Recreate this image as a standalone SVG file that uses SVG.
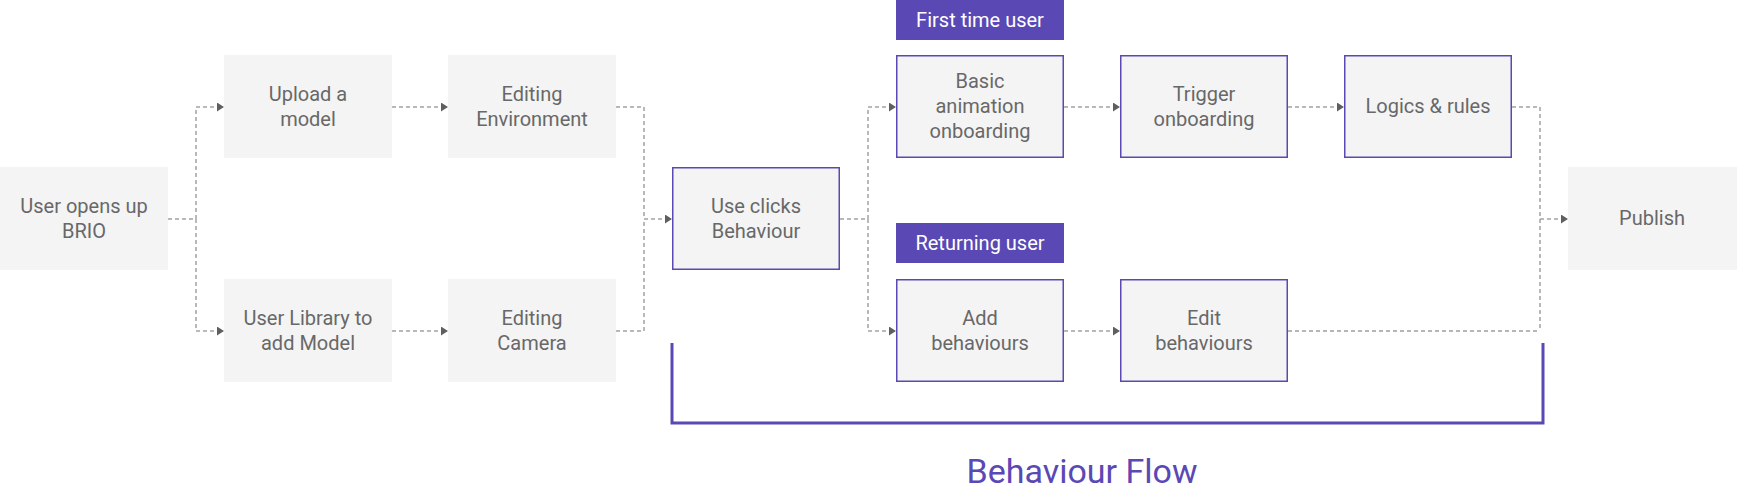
<svg xmlns="http://www.w3.org/2000/svg" width="1737" height="497" viewBox="0 0 1737 497">
  <defs>
    <style>
      .box { fill: #f4f4f4; }
      .pbox { fill: #f4f4f4; stroke: #5a48b5; stroke-width: 1.5; }
      .lbl { fill: #5a48b5; }
      .t { font-family: Roboto, "Liberation Sans", sans-serif; font-size: 20px; fill: #686868; text-anchor: middle; }
      .lt { font-family: Roboto, "Liberation Sans", sans-serif; font-size: 20px; fill: #ffffff; text-anchor: middle; }
      .title { font-family: Roboto, "Liberation Sans", sans-serif; font-size: 34px; fill: #5a48b5; text-anchor: middle; }
      .c { fill: none; stroke: #a3a3a3; stroke-width: 1.5; stroke-dasharray: 4 3; }
      .cd { fill: none; stroke: #6e6e6e; stroke-width: 1.2; stroke-dasharray: 4 3; }
      .br { fill: none; stroke: #5a48b5; stroke-width: 3; }
    </style>
    <marker id="arr" viewBox="0 0 7 9" refX="7" refY="4.5" markerWidth="7" markerHeight="9" markerUnits="userSpaceOnUse" orient="auto">
      <path d="M0,0 L7,4.5 L0,9 Z" fill="#5f5f5f"/>
    </marker>
  </defs>
  <rect width="1737" height="497" fill="#ffffff"/>

  <g id="connectors">
    <path class="c" d="M168,219 H196 V107 H224" marker-end="url(#arr)"/>
    <path class="c" d="M196,219 V331 H224" marker-end="url(#arr)"/>
    <path class="c" d="M392,107 H448" marker-end="url(#arr)"/>
    <path class="c" d="M392,331 H448" marker-end="url(#arr)"/>
    <path class="c" d="M616,107 H644 V219 H672" marker-end="url(#arr)"/>
    <path class="c" d="M616,331 H644 V219"/>
    <path class="c" d="M840,219 H868 V107 H896" marker-end="url(#arr)"/>
    <path class="c" d="M868,219 V331 H896" marker-end="url(#arr)"/>
    <path class="c" d="M1064,107 H1120" marker-end="url(#arr)"/>
    <path class="c" d="M1288,107 H1344" marker-end="url(#arr)"/>
    <path class="c" d="M1064,331 H1120" marker-end="url(#arr)"/>
    <path class="c" d="M1512,107 H1540 V331"/>
    <path class="cd" d="M1288,331 H1540"/>
    <path class="c" d="M1540,219 H1568" marker-end="url(#arr)"/>
  </g>

  <g id="n-user-opens">
    <rect class="box" x="0" y="167" width="168" height="103"/>
    <text class="t" x="84" y="213">User opens up</text>
    <text class="t" x="84" y="238">BRIO</text>
  </g>
  <g id="n-upload">
    <rect class="box" x="224" y="55" width="168" height="103"/>
    <text class="t" x="308" y="101">Upload a</text>
    <text class="t" x="308" y="126">model</text>
  </g>
  <g id="n-library">
    <rect class="box" x="224" y="279" width="168" height="103"/>
    <text class="t" x="308" y="325">User Library to</text>
    <text class="t" x="308" y="350">add Model</text>
  </g>
  <g id="n-env">
    <rect class="box" x="448" y="55" width="168" height="103"/>
    <text class="t" x="532" y="101">Editing</text>
    <text class="t" x="532" y="126">Environment</text>
  </g>
  <g id="n-camera">
    <rect class="box" x="448" y="279" width="168" height="103"/>
    <text class="t" x="532" y="325">Editing</text>
    <text class="t" x="532" y="350">Camera</text>
  </g>
  <g id="n-use-clicks">
    <rect class="pbox" x="672.75" y="167.75" width="166.5" height="101.5"/>
    <text class="t" x="756" y="213">Use clicks</text>
    <text class="t" x="756" y="238">Behaviour</text>
  </g>
  <g id="l-first">
    <rect class="lbl" x="896" y="0" width="168" height="40"/>
    <text class="lt" x="980" y="27">First time user</text>
  </g>
  <g id="n-basic">
    <rect class="pbox" x="896.75" y="55.75" width="166.5" height="101.5"/>
    <text class="t" x="980" y="88">Basic</text>
    <text class="t" x="980" y="113">animation</text>
    <text class="t" x="980" y="138">onboarding</text>
  </g>
  <g id="n-trigger">
    <rect class="pbox" x="1120.75" y="55.75" width="166.5" height="101.5"/>
    <text class="t" x="1204" y="101">Trigger</text>
    <text class="t" x="1204" y="126">onboarding</text>
  </g>
  <g id="n-logics">
    <rect class="pbox" x="1344.75" y="55.75" width="166.5" height="101.5"/>
    <text class="t" x="1428" y="113">Logics &amp; rules</text>
  </g>
  <g id="l-returning">
    <rect class="lbl" x="896" y="223" width="168" height="40"/>
    <text class="lt" x="980" y="250">Returning user</text>
  </g>
  <g id="n-add">
    <rect class="pbox" x="896.75" y="279.75" width="166.5" height="101.5"/>
    <text class="t" x="980" y="325">Add</text>
    <text class="t" x="980" y="350">behaviours</text>
  </g>
  <g id="n-edit">
    <rect class="pbox" x="1120.75" y="279.75" width="166.5" height="101.5"/>
    <text class="t" x="1204" y="325">Edit</text>
    <text class="t" x="1204" y="350">behaviours</text>
  </g>
  <g id="n-publish">
    <rect class="box" x="1568" y="167" width="169" height="103"/>
    <text class="t" x="1652" y="225">Publish</text>
  </g>

  <g id="behaviour-flow">
    <path class="br" d="M672,343 V423 H1543 V343"/>
    <text class="title" x="1082" y="483">Behaviour Flow</text>
  </g>
</svg>
